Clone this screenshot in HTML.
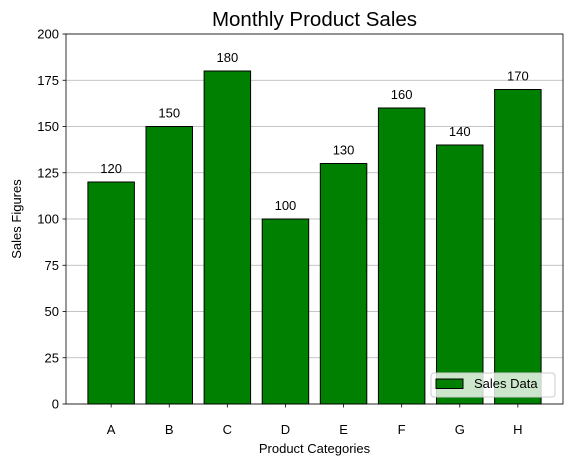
<!DOCTYPE html>
<html><head><meta charset="utf-8"><style>body{margin:0;background:#fff}svg{display:block;font-family:"Liberation Sans","DejaVu Sans",sans-serif}</style></head>
<body>
<svg id="chart" width="571" height="466"></svg>
<script>
const categories=["A","B","C","D","E","F","G","H"];
const salesValues=[120,150,180,100,130,160,140,170];
const yTicks=[0,25,50,75,100,125,150,175,200];
const svg=document.getElementById('chart');
const NS='http://www.w3.org/2000/svg';
const L=66,R=563,T=34,B=404;
const xmin=-0.777,xmax=categories.length-1+0.777;
const xs=i=>L+(i-xmin)/(xmax-xmin)*(R-L);
const ys=v=>B-v/200*(B-T);
const unit=(R-L)/(xmax-xmin);
function mk(t,a,p){const e=document.createElementNS(NS,t);for(const k in a)e.setAttribute(k,a[k]);(p||svg).appendChild(e);return e;}
yTicks.forEach(v=>{
  const y=ys(v);
  const g=mk('line',{x1:L,x2:R,y1:y,y2:y,stroke:'#b0b0b0','stroke-width':0.8});
  
  
  mk('line',{x1:L-3.5,x2:L,y1:y,y2:y,stroke:'#000','stroke-width':0.8});
  const t=mk('text',{x:L-7,y:y+4.5,'text-anchor':'end','font-size':13});t.textContent=v;
  
  
});
categories.forEach((c,i)=>{
  const cx=xs(i),w=0.8*unit,v=salesValues[i];
  const b=mk('rect',{x:cx-w/2,y:ys(v),width:w,height:B-ys(v),fill:'#008000',stroke:'#000','stroke-width':1});
  
  
  const vl=mk('text',{x:cx,y:ys(v)-9,'text-anchor':'middle','font-size':13});vl.textContent=v;
  
  
  mk('line',{x1:cx,x2:cx,y1:B,y2:B+3.5,stroke:'#000','stroke-width':0.8});
  const t=mk('text',{x:cx,y:B+30,'text-anchor':'middle','font-size':13});t.textContent=c;
  
  
});
const fr=mk('rect',{x:L,y:T,width:R-L,height:B-T,fill:'none',stroke:'#000','stroke-width':0.8});


const ti=mk('text',{x:(L+R)/2,y:26,'text-anchor':'middle','font-size':20.5});ti.textContent='Monthly Product Sales';


const xt=mk('text',{x:(L+R)/2,y:453,'text-anchor':'middle','font-size':13});xt.textContent='Product Categories';


const yt=mk('text',{x:0,y:0,'text-anchor':'middle','font-size':13,transform:'translate(21,219) rotate(-90)'});yt.textContent='Sales Figures';


const lg=mk('g',{});


mk('rect',{x:431,y:373,width:124,height:24,rx:3,fill:'rgba(255,255,255,0.8)',stroke:'#ccc','stroke-width':1},lg);
const lp=mk('rect',{x:436,y:379,width:27,height:9.5,fill:'#008000',stroke:'#000','stroke-width':1},lg);


const lt=mk('text',{x:474,y:388,'font-size':13},lg);lt.textContent='Sales Data';


</script>
</body></html>
